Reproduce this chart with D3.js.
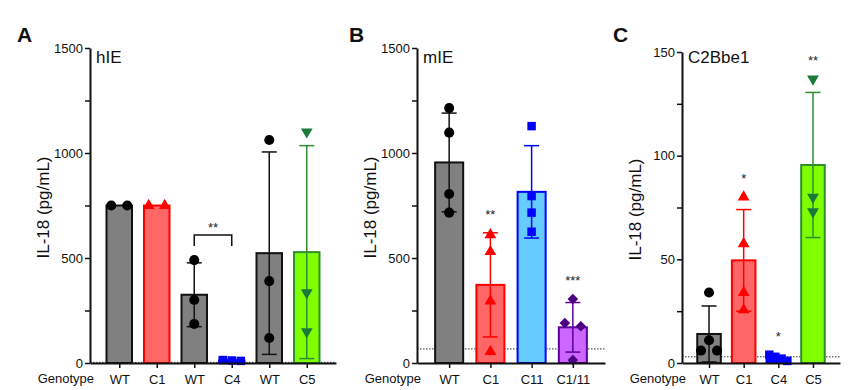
<!DOCTYPE html>
<html>
<head>
<meta charset="utf-8">
<script src="https://cdn.jsdelivr.net/npm/d3@7"></script>
<style>
  body { margin: 0; background: #fff; }
  text { font-family: "Liberation Sans", Arial, sans-serif; }
</style>
</head>
<body>
<svg id="chart" width="859" height="390"></svg>
<script>
// Panel A - hIE
const aGenotype = ['WT', 'C1', 'WT', 'C4', 'WT', 'C5'];
const aMean = [750, 750, 325, 12, 523, 528];
const aSD = [0, 0, 152, 3, 482, 507];
const aPoints = [[750, 750], [750, 750], [490, 300, 186], [10, 14, 12], [1062, 390, 119], [1101, 335, 149]];
const aStars = ['', '', '', '', '', ''];
const aBracket = [2, 3, '**'];
const aLod = 3;

// Panel B - mIE
const bGenotype = ['WT', 'C1', 'C11', 'C1/11'];
const bMean = [955, 372, 815, 170];
const bSD = [235, 248, 220, 118];
const bPoints = [[1214, 1097, 805, 716], [610, 530, 295, 54], [1128, 795, 716, 625], [305, 190, 175, 14]];
const bStars = ['', '**', '', '***'];
const bLod = 67;

// Panel C - C2Bbe1
const cGenotype = ['WT', 'C1', 'C4', 'C5'];
const cMean = [14, 49.5, 2.5, 95.5];
const cSD = [13.5, 24.5, 1.2, 35];
const cPoints = [[34, 11, 6, 6], [80, 57.5, 34, 25.6], [1, 4, 3, 2], [137, 80, 73]];
const cStars = ['', '*', '*', '**'];
const cLod = 3;

// colours / shapes for each genotype
const styles = {
  'WT':    { fill: '#808080', stroke: '#111111', point: '#000000', shape: 'circle' },
  'C1':    { fill: '#ff6666', stroke: '#ff0000', point: '#ff0000', shape: 'up' },
  'C4':    { fill: '#0000ff', stroke: '#0000ff', point: '#0000ff', shape: 'square' },
  'C5':    { fill: '#80ff00', stroke: '#2e8f2e', point: '#1a7a3a', shape: 'down' },
  'C11':   { fill: '#66ccff', stroke: '#0000ff', point: '#0000ff', shape: 'square' },
  'C1/11': { fill: '#cc66ff', stroke: '#5c0099', point: '#4b0082', shape: 'diamond' }
};

const panels = [
  { letter: 'A', name: 'hIE', genotype: aGenotype, mean: aMean, sd: aSD, points: aPoints, stars: aStars,
    bracket: aBracket, lod: aLod, x0: 90, x1: 336, top: 48, yMax: 1500, step: 500, letterX: 17 },
  { letter: 'B', name: 'mIE', genotype: bGenotype, mean: bMean, sd: bSD, points: bPoints, stars: bStars,
    bracket: null, lod: bLod, x0: 417, x1: 605, top: 48, yMax: 1500, step: 500, letterX: 349 },
  { letter: 'C', name: 'C2Bbe1', genotype: cGenotype, mean: cMean, sd: cSD, points: cPoints, stars: cStars,
    bracket: null, lod: cLod, x0: 682, x1: 840, top: 52, yMax: 150, step: 50, letterX: 613 }
];

const svg = d3.select('#chart');
const bottom = 363;

function symbolPath(shape) {
  if (shape === 'circle') return d3.symbol(d3.symbolCircle, 80)();
  if (shape === 'square') return d3.symbol(d3.symbolSquare, 72)();
  if (shape === 'diamond') return d3.symbol(d3.symbolSquare, 56)();
  return d3.symbol(d3.symbolTriangle, 60)();
}
function symbolRotate(shape) {
  if (shape === 'down') return 180;
  if (shape === 'diamond') return 45;
  return 0;
}

// spread points that overlap vertically (like GraphPad scatter)
function dodge(vals, y) {
  const idx = vals.map((v, i) => i).sort((a, b) => vals[b] - vals[a]);
  const offs = new Array(vals.length).fill(0);
  let group = [idx[0]];
  const flush = () => {
    const n = group.length;
    if (n > 1) {
      const span = Math.min(16 * (n - 1), 18);
      group.forEach((g, k) => { offs[g] = -span / 2 + span * k / (n - 1); });
    }
  };
  for (let k = 1; k < idx.length; k++) {
    const prev = group[group.length - 1];
    if (Math.abs(y(vals[idx[k]]) - y(vals[prev])) < 8) group.push(idx[k]);
    else { flush(); group = [idx[k]]; }
  }
  flush();
  return offs;
}

panels.forEach(p => {
  const g = svg.append('g');
  const n = p.genotype.length;

  const x = d3.scalePoint().domain(d3.range(n)).range([p.x0, p.x1]).padding(0.78);
  const y = d3.scaleLinear().domain([0, p.yMax]).range([bottom, p.top]);
  const bw = x.step() * 0.68;

  // limit of detection
  g.append('line')
    .attr('x1', p.x0).attr('x2', p.x1)
    .attr('y1', y(p.lod)).attr('y2', y(p.lod))
    .attr('stroke', '#333').attr('stroke-width', 1)
    .attr('stroke-dasharray', '1.5,1.5');

  // bars
  g.selectAll('rect.bar')
    .data(d3.range(n))
    .join('rect')
    .attr('class', 'bar')
    .attr('x', i => x(i) - bw / 2)
    .attr('y', i => y(p.mean[i]))
    .attr('width', bw)
    .attr('height', i => bottom - y(p.mean[i]))
    .attr('fill', i => styles[p.genotype[i]].fill)
    .attr('stroke', i => styles[p.genotype[i]].stroke)
    .attr('stroke-width', 2);

  // error bars (mean +/- SD)
  d3.range(n).forEach(i => {
    if (p.sd[i] <= 0) return;
    const col = styles[p.genotype[i]].stroke;
    const hi = y(p.mean[i] + p.sd[i]);
    const lo = y(Math.max(0, p.mean[i] - p.sd[i]));
    const cx = x(i);
    g.append('line').attr('x1', cx).attr('x2', cx).attr('y1', hi).attr('y2', lo)
      .attr('stroke', col).attr('stroke-width', 1.5);
    [hi, lo].forEach(yy => {
      g.append('line').attr('x1', cx - 7.5).attr('x2', cx + 7.5).attr('y1', yy).attr('y2', yy)
        .attr('stroke', col).attr('stroke-width', 1.5);
    });
  });

  // individual points
  d3.range(n).forEach(i => {
    const st = styles[p.genotype[i]];
    const offs = dodge(p.points[i], y);
    g.selectAll(null)
      .data(p.points[i])
      .join('path')
      .attr('d', symbolPath(st.shape))
      .attr('transform', (d, k) => `translate(${x(i) + offs[k]},${y(d)}) rotate(${symbolRotate(st.shape)})`)
      .attr('fill', st.point);
  });

  // significance stars
  d3.range(n).forEach(i => {
    if (!p.stars[i]) return;
    const top = d3.max([...p.points[i], p.mean[i] + p.sd[i]]);
    g.append('text')
      .attr('x', x(i)).attr('y', y(top) - 14)
      .attr('text-anchor', 'middle')
      .attr('font-size', '13px')
      .attr('fill', '#222')
      .text(p.stars[i]);
  });

  if (p.bracket) {
    const [b0, b1, lab] = p.bracket;
    const top = d3.max([...p.points[b0], ...p.points[b1]]);
    const yb = y(top) - 25;
    g.append('path')
      .attr('d', `M${x(b0)},${yb + 11}V${yb}H${x(b1)}V${yb + 11}`)
      .attr('fill', 'none').attr('stroke', '#111').attr('stroke-width', 1.5);
    g.append('text')
      .attr('x', (x(b0) + x(b1)) / 2).attr('y', yb - 3)
      .attr('text-anchor', 'middle')
      .attr('font-size', '13px')
      .attr('fill', '#222')
      .text(lab);
  }

  // y axis with minor ticks
  const major = d3.range(0, p.yMax + 1, p.step);
  const minor = d3.range(p.step / 2, p.yMax, p.step);
  g.append('g')
    .attr('transform', `translate(${p.x0},0)`)
    .call(d3.axisLeft(y).tickValues(minor).tickSize(5).tickFormat(''))
    .call(a => a.select('.domain').remove())
    .call(a => a.selectAll('line').attr('stroke', '#111').attr('stroke-width', 1.5));
  g.append('g')
    .attr('transform', `translate(${p.x0},0)`)
    .call(d3.axisLeft(y).tickValues(major).tickSize(5).tickSizeOuter(0).tickPadding(2).tickFormat(d3.format('d')))
    .call(a => a.select('.domain').attr('stroke', '#111').attr('stroke-width', 2))
    .call(a => a.selectAll('line').attr('stroke', '#111').attr('stroke-width', 1.5))
    .call(a => a.selectAll('text').attr('font-size', '13px').attr('fill', '#111')
      .style('font-family', '"Liberation Sans", Arial, sans-serif'));

  // x axis
  g.append('g')
    .attr('transform', `translate(0,${bottom})`)
    .call(d3.axisBottom(x).tickSize(5).tickSizeOuter(0).tickPadding(7).tickFormat(i => p.genotype[i]))
    .call(a => a.select('.domain').attr('stroke', '#111').attr('stroke-width', 2))
    .call(a => a.selectAll('line').attr('stroke', '#111').attr('stroke-width', 1.5))
    .call(a => a.selectAll('text').attr('font-size', '13px').attr('fill', '#111')
      .style('font-family', '"Liberation Sans", Arial, sans-serif'));

  g.append('text')
    .attr('x', p.x0 + 4).attr('y', 383)
    .attr('text-anchor', 'end')
    .attr('font-size', '13px')
    .attr('fill', '#111')
    .text('Genotype');

  // y title
  g.append('text')
    .attr('transform', `translate(${p.x0 - 47},${(bottom + p.top) / 2 + 2}) rotate(-90)`)
    .attr('text-anchor', 'middle')
    .attr('dominant-baseline', 'central')
    .attr('font-size', '17px')
    .attr('fill', '#111')
    .text('IL-18 (pg/mL)');

  // panel letter and cell line
  g.append('text')
    .attr('x', p.letterX).attr('y', 42)
    .attr('font-size', '21px')
    .attr('font-weight', 'bold')
    .attr('fill', '#111')
    .text(p.letter);

  g.append('text')
    .attr('x', p.x0 + 6).attr('y', 63)
    .attr('font-size', '17px')
    .attr('fill', '#111')
    .text(p.name);
});
</script>
</body>
</html>
